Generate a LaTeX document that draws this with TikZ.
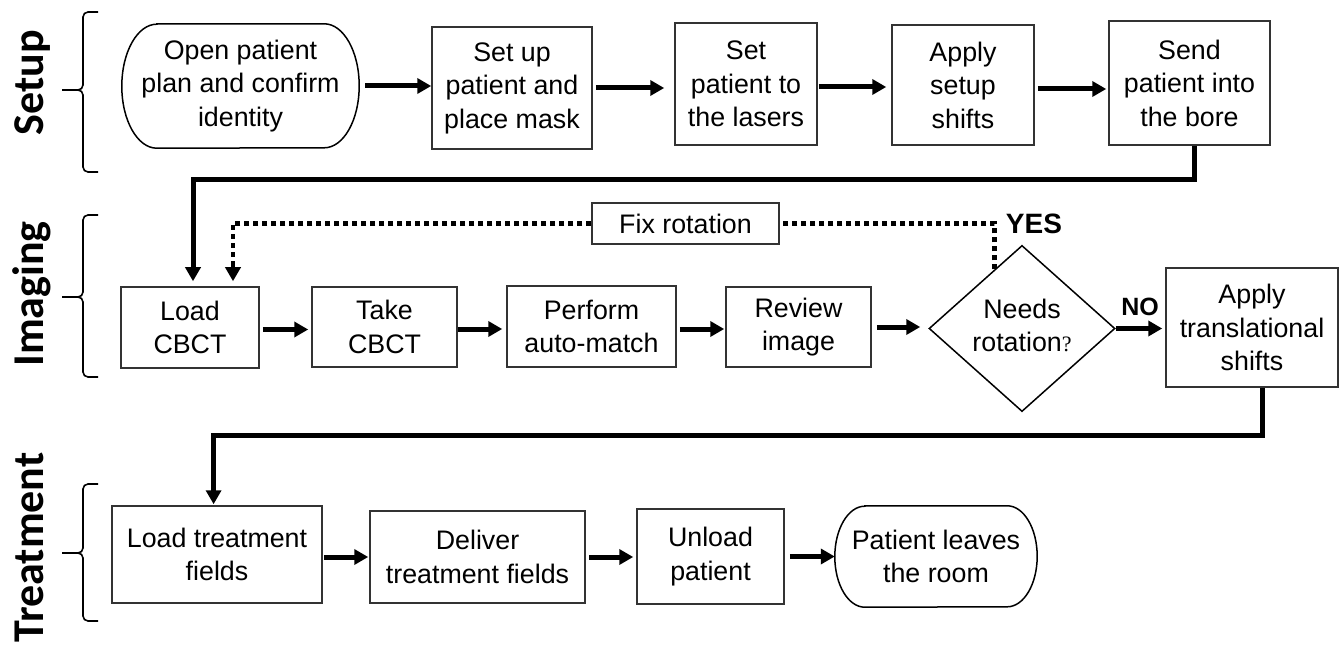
\documentclass[tikz,border=0pt]{standalone}
\usepackage{fontspec}
\setmainfont{Liberation Sans}
\newfontfamily\lblfont{Carlito}
\newfontfamily\qfont{Liberation Serif}
\usetikzlibrary{arrows.meta,shapes.geometric,calc}
\begin{document}
\begin{tikzpicture}[x=1pt,y=-1pt,
  every node/.style={font=\fontsize{26.8pt}{33.5pt}\selectfont, align=center, inner sep=0pt},
  box/.style={draw=black!80, line width=1.5pt},
  termline/.style={draw=black, line width=1.5pt},
  arr/.style={line width=5pt, -{Triangle[length=14pt,width=15pt]}, shorten <=3pt, shorten >=3pt},
  conn/.style={line width=5pt, -{Triangle[length=14pt,width=15pt]}},
  dotline/.style={line width=4.5pt, dash pattern=on 5pt off 4pt},
  brk/.style={line width=1.6pt, rounded corners=5pt},
  lbl/.style={font=\lblfont\bfseries\fontsize{44pt}{48pt}\selectfont, rotate=90, anchor=base},
  yn/.style={font=\bfseries\fontsize{28pt}{30pt}\selectfont}]

\useasboundingbox (0,0) rectangle (1341,652);
\fill[white] (0,0) rectangle (1341,652);

% phase labels
\node[lbl] (lsetup) at (43,82.5) {Setup};
\node[lbl] (limg) at (43,294) {Imaging};
\node[lbl] (ltreat) at (43,547.5) {Treatment};

% braces
\draw[brk] (98,12) -- (83,12) -- (83,90) -- (62,90);
\draw[brk] (62,90) -- (83,90) -- (83,172) -- (98,172);
\draw[brk] (98,215) -- (83,215) -- (83,297) -- (62,297);
\draw[brk] (62,297) -- (83,297) -- (83,377) -- (98,377);
\draw[brk] (98,484) -- (83,484) -- (83,553) -- (62,553);
\draw[brk] (62,553) -- (83,553) -- (83,621) -- (98,621);

% top row
\node[minimum width=237pt, minimum height=124pt] (n1) at (240.5,86) {Open patient\\plan and confirm\\identity};
\draw[termline] ([xshift=35pt]n1.north west) -- ([xshift=-35pt]n1.north east)
  arc[start angle=90, end angle=-90, x radius=35pt, y radius=62pt]
  -- ([xshift=35pt]n1.south west)
  arc[start angle=270, end angle=90, x radius=35pt, y radius=62pt] -- cycle;
\node[box, minimum width=160pt, minimum height=122pt] (n2) at (512,88) {Set up\\patient and\\place mask};
\node[box, minimum width=142pt, minimum height=122pt] (n3) at (746,84) {Set\\patient to\\the lasers};
\node[box, minimum width=142pt, minimum height=120pt] (n4) at (963,85) {Apply\\setup\\shifts};
\node[box, minimum width=161pt, minimum height=124pt] (n5) at (1189.5,83) {Send\\patient into\\the bore};

\draw[arr, shorten <=6pt, shorten >=0pt] (n1.east) -- (n1.east -| n2.west);
\draw[arr, shorten >=10pt] (n2.east) -- (n2.east -| n3.west);
\draw[arr, shorten <=1pt, shorten >=5pt] ([yshift=-3pt]n3.east) -- ([yshift=-3pt]n3.east -| n4.west);
\draw[arr, shorten >=2pt] ([yshift=-4pt]n4.east) -- ([yshift=-4pt]n4.east -| n5.west);

% middle row
\node[box, minimum width=138pt, minimum height=81pt] (m1) at (190,327.5) {Load\\CBCT};
\node[box, minimum width=145pt, minimum height=80pt] (m2) at (384.5,327) {Take\\CBCT};
\node[box, minimum width=169pt, minimum height=81pt] (m3) at (591.5,326.5) {Perform\\auto-match};
\node[box, minimum width=145pt, minimum height=80pt] (m4) at (798.5,327) {Review\\image};
\node[draw=black, line width=1.5pt, diamond, aspect=1, minimum width=186pt, minimum height=163pt] (dia) at (1022,328.5) {\raisebox{4pt}{\begin{tabular}{@{}c@{}}Needs\\rotation{\qfont\fontsize{22pt}{24pt}\selectfont ?}\end{tabular}}};
\node[box, minimum width=172pt, minimum height=119pt] (m5) at (1252,327.5) {Apply\\translational\\shifts};
\node[box, minimum width=187pt, minimum height=41pt] (fix) at (685.5,223.5) {Fix rotation};

\draw[arr] ([yshift=-2pt]m1.east) -- ([yshift=-2pt]m1.east -| m2.west);
\draw[arr, shorten <=0pt, shorten >=4pt] ([yshift=-2pt]m2.east) -- ([yshift=-2pt]m2.east -| m3.west);
\draw[arr, shorten >=1pt] ([yshift=-2.5pt]m3.east) -- ([yshift=-2.5pt]m3.east -| m4.west);
\draw[arr, shorten <=5pt, shorten >=8pt] (m4.east) -- (m4.east -| dia.west);
\draw[arr, shorten <=0pt, shorten >=3pt] (dia.east) -- (dia.east -| m5.west);

\node[yn] (yes) at (1034,224) {YES};
\node[yn, font=\bfseries\fontsize{25pt}{27pt}\selectfont] (no) at (1140,307) {NO};

% dotted loop
\draw[dotline] (dia.115) |- (fix.east);
\draw[dotline] (fix.west) -| ([xshift=43pt, yshift=21pt]m1.north);
\draw[conn, line width=4.5pt] ([xshift=43pt, yshift=22pt]m1.north) -- ([xshift=43pt, yshift=5pt]m1.north);

% bottom row
\node[box, minimum width=210pt, minimum height=97pt] (t1) at (217,554.5) {Load treatment\\fields};
\node[box, minimum width=215pt, minimum height=92pt] (t2) at (477.5,557) {Deliver\\treatment fields};
\node[box, minimum width=147pt, minimum height=95pt] (t3) at (710.5,556.5) {Unload\\patient};
\node[minimum width=202pt, minimum height=101pt] (t4) at (936,556.5) {Patient leaves\\the room};
\draw[termline] ([xshift=30pt]t4.north west) -- ([xshift=-30pt]t4.north east)
  arc[start angle=90, end angle=-90, x radius=30pt, y radius=50.5pt]
  -- ([xshift=30pt]t4.south west)
  arc[start angle=270, end angle=90, x radius=30pt, y radius=50.5pt] -- cycle;

% long connectors
\coordinate (c1) at (193,180);
\draw[conn, shorten >=5pt] ([xshift=4.5pt]n5.south) |- (c1) -- (c1 |- m1.north);
\coordinate (c2) at (213.6,435);
\draw[conn, shorten >=1pt] ([xshift=10pt]m5.south) |- (c2) -- (c2 |- t1.north);

\draw[arr, shorten <=1pt, shorten >=1pt] ([yshift=-2.5pt]t1.east) -- ([yshift=-2.5pt]t1.east -| t2.west);
\draw[arr, shorten <=3.5pt] (t2.east) -- (t2.east -| t3.west);
\draw[arr, shorten <=5pt, shorten >=0pt] (t3.east) -- (t3.east -| t4.west);
\end{tikzpicture}
\end{document}
